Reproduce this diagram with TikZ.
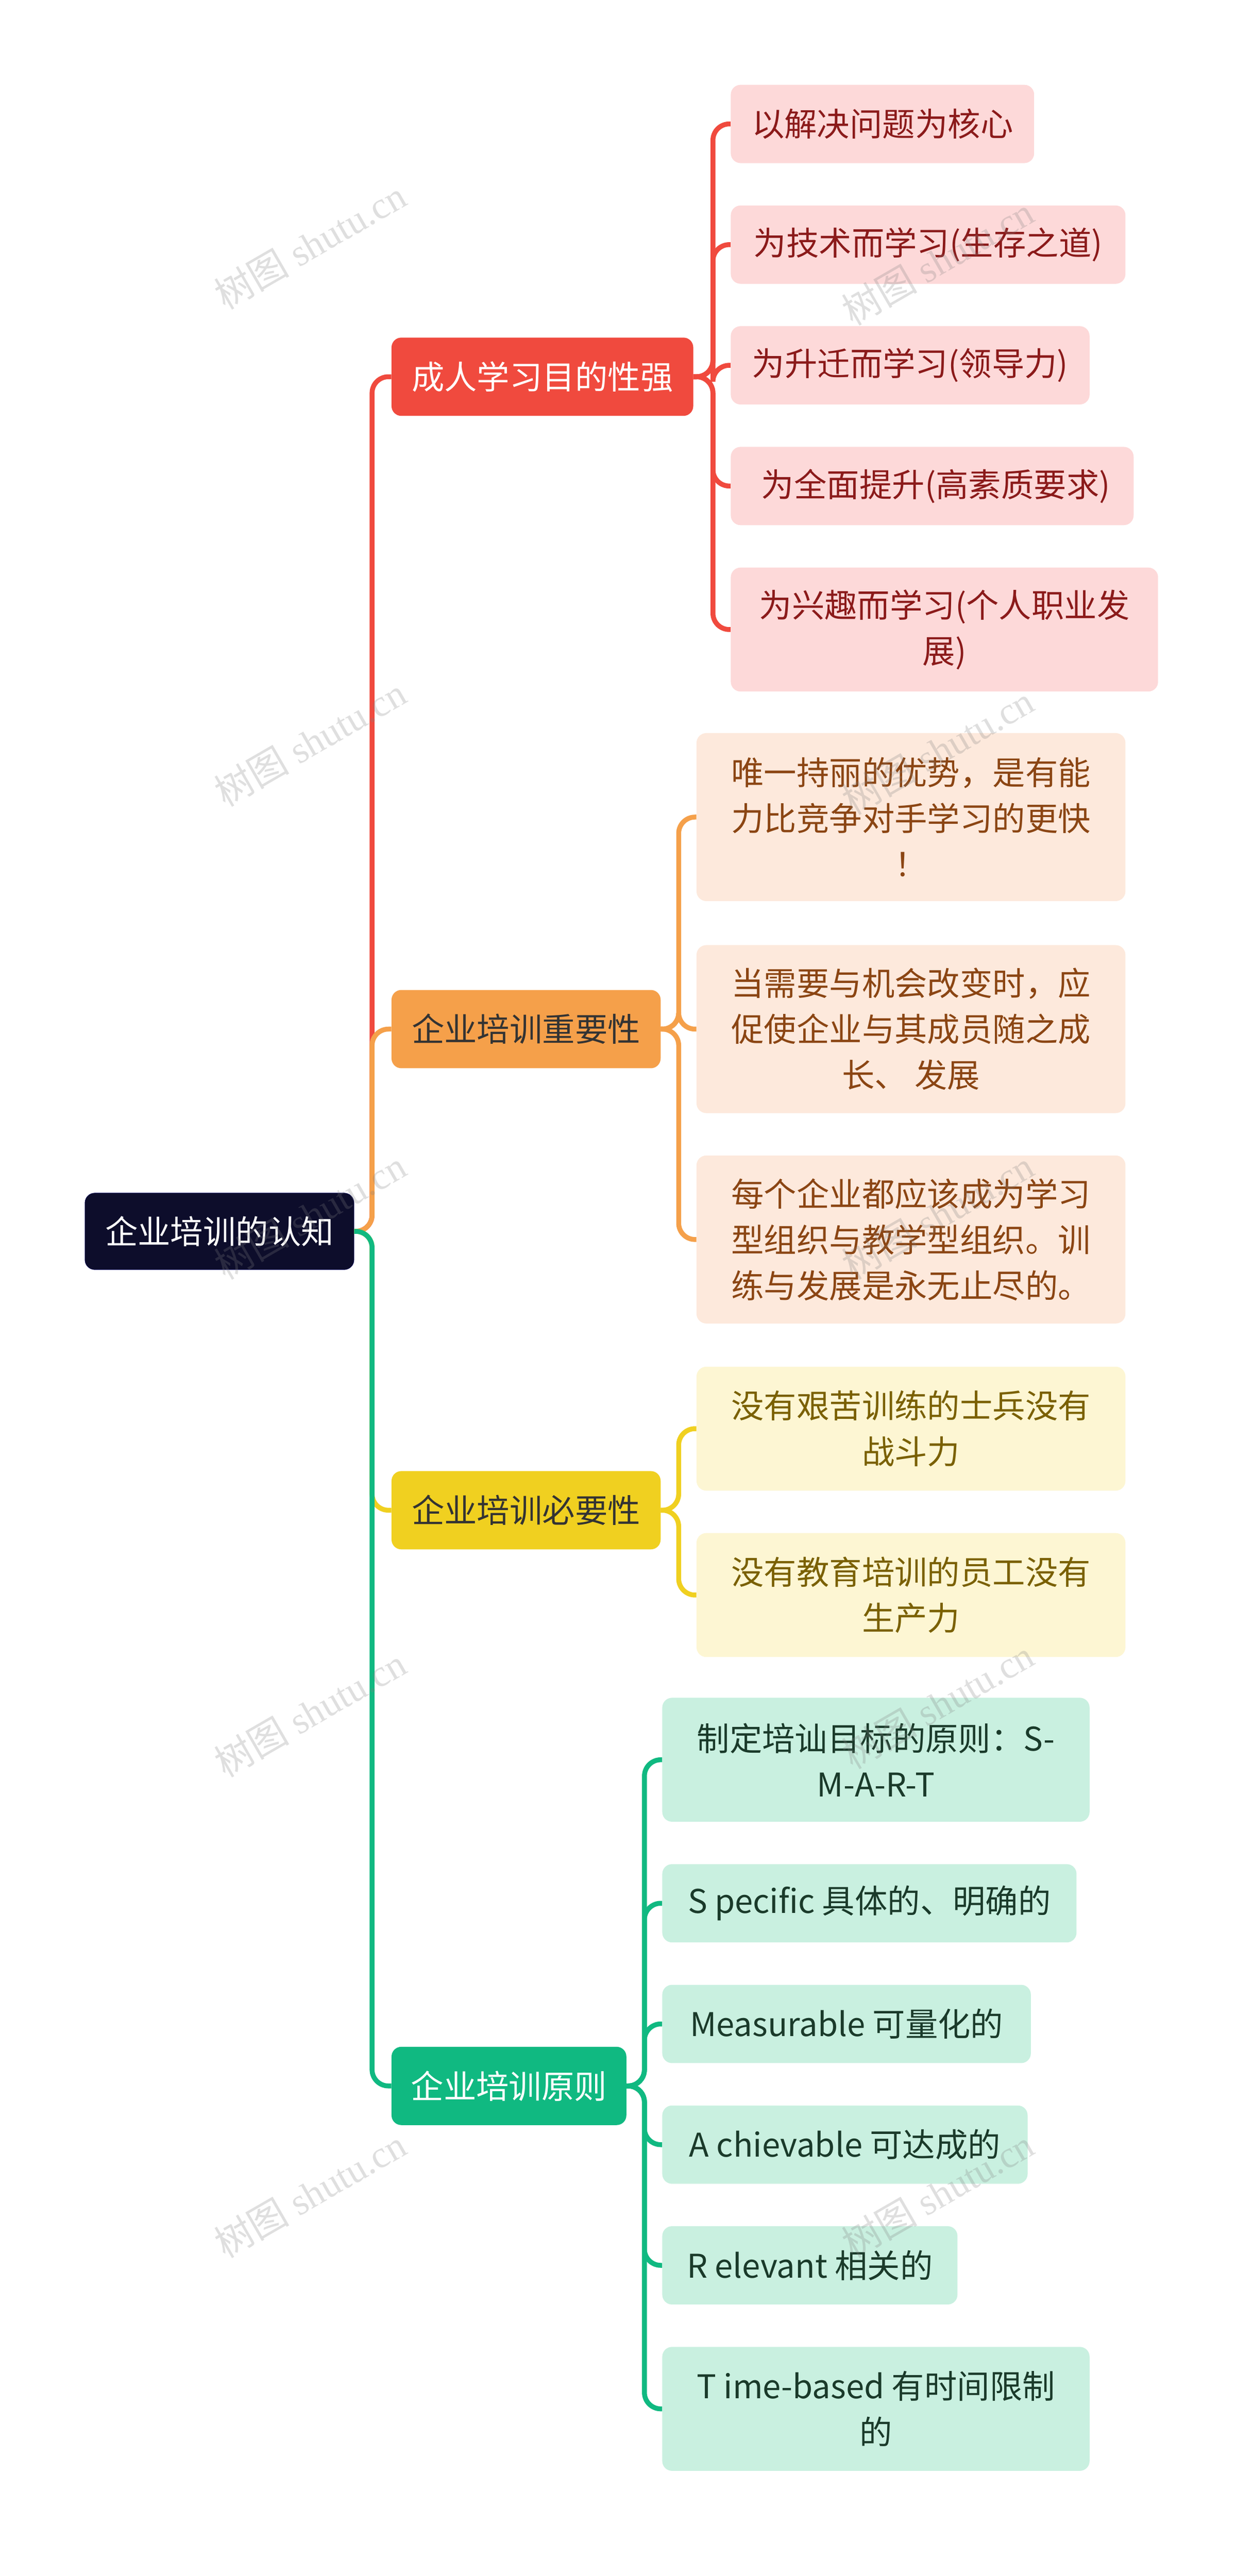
\documentclass[tikz,border=0pt]{standalone}
\usepackage{fontspec}
\setmainfont{Noto Sans CJK SC}
\newfontfamily\wmfont{Liberation Serif}
\newfontfamily\wmcjk{Noto Sans CJK SC}
\begin{document}
\begin{tikzpicture}[x=0.1cm,y=-0.1cm,
  box/.style={anchor=west,rounded corners=0.6cm,align=center,inner sep=0pt,font=\fontsize{57}{80}\selectfont},
  wm/.style={rotate=30,text=gray,opacity=0.25,font=\wmfont\fontsize{66}{70}\selectfont},
  conn/.style={line width=0.3cm,rounded corners=1cm}]
\useasboundingbox (0,0) rectangle (768,1579.5);
\fill[white] (0,0) rectangle (768,1579.5);
\definecolor{cR}{HTML}{F04A3E}\definecolor{cRl}{HTML}{FDD9D9}\definecolor{cRt}{HTML}{8B1A1A}
\definecolor{cO}{HTML}{F5A04A}\definecolor{cOl}{HTML}{FDE9DC}\definecolor{cOt}{HTML}{8B4513}
\definecolor{cY}{HTML}{F0D020}\definecolor{cYl}{HTML}{FDF6D3}\definecolor{cYt}{HTML}{7A6000}
\definecolor{cG}{HTML}{10B981}\definecolor{cGl}{HTML}{C9F0E0}\definecolor{cGt}{HTML}{1A3A2A}
\definecolor{cN}{HTML}{0D0D2B}
% root
\node[box,fill=cN,draw=blue!40!black,text=white,minimum width=16.5cm,minimum height=4.7cm] (root) at (52,755) {企业培训的认知};
% branches
\node[box,fill=cR,text=white,minimum width=18.5cm,minimum height=4.8cm] (b1) at (240,231) {成人学习目的性强};
\node[box,fill=cO,text=black!80,minimum width=16.5cm,minimum height=4.8cm] (b2) at (240,631) {企业培训重要性};
\node[box,fill=cY,text=black!80,minimum width=16.5cm,minimum height=4.8cm] (b3) at (240,926) {企业培训必要性};
\node[box,fill=cG,text=white,minimum width=14.4cm,minimum height=4.8cm] (b4) at (240,1279) {企业培训原则};
% trunk
\draw[conn,cR] (root.east) -- ++(11,0) |- (b1.west);
\draw[conn,cO] (root.east) -- ++(11,0) |- (b2.west);
\draw[conn,cY] (root.east) -- ++(11,0) |- (b3.west);
\draw[conn,cG] (root.east) -- ++(11,0) |- (b4.west);
% red leaves
\tikzset{rl/.style={box,fill=cRl,text=cRt,minimum height=4.8cm}}
\node[rl,minimum width=18.6cm] (r1) at (448,76) {以解决问题为核心};
\node[rl,minimum width=24.2cm] (r2) at (448,150) {为技术而学习(生存之道)};
\node[rl,minimum width=22cm] (r3) at (448,224) {为升迁而学习(领导力)};
\node[rl,minimum width=24.7cm] (r4) at (448,298) {\ 为全面提升(高素质要求)};
\node[rl,minimum width=26.2cm,minimum height=7.6cm] (r5) at (448,386) {为兴趣而学习(个人职业发\\展)};
\foreach \n in {r1,r2,r3,r4,r5} \draw[conn,cR] (b1.east) -- ++(12,0) |- (\n.west);
% orange leaves
\tikzset{ol/.style={box,fill=cOl,text=cOt,minimum width=26.3cm,minimum height=10.3cm}}
\node[ol] (o1) at (427,501) {唯一持丽的优势，是有能\\力比竞争对手学习的更快\\！};
\node[ol] (o2) at (427,631) {当需要与机会改变时，应\\促使企业与其成员随之成\\长、 发展};
\node[ol] (o3) at (427,760) {每个企业都应该成为学习\\型组织与教学型组织。训\\练与发展是永无止尽的。};
\foreach \n in {o1,o2,o3} \draw[conn,cO] (b2.east) -- ++(11,0) |- (\n.west);
% yellow leaves
\tikzset{yl/.style={box,fill=cYl,text=cYt,minimum width=26.3cm,minimum height=7.6cm}}
\node[yl] (y1) at (427,876) {没有艰苦训练的士兵没有\\战斗力};
\node[yl] (y2) at (427,978) {没有教育培训的员工没有\\生产力};
\foreach \n in {y1,y2} \draw[conn,cY] (b3.east) -- ++(11,0) |- (\n.west);
% green leaves
\tikzset{gl/.style={box,fill=cGl,text=cGt,minimum height=4.8cm}}
\node[gl,minimum width=26.2cm,minimum height=7.6cm] (g1) at (406,1079) {制定培讪目标的原则：S-\\M-A-R-T};
\node[gl,minimum width=25.4cm] (g2) at (406,1167) {S pecific 具体的、明确的};
\node[gl,minimum width=22.6cm] (g3) at (406,1241) {Measurable 可量化的};
\node[gl,minimum width=22.4cm] (g4) at (406,1315) {A chievable 可达成的};
\node[gl,minimum width=18.1cm] (g5) at (406,1389) {R elevant 相关的};
\node[gl,minimum width=26.2cm,minimum height=7.6cm] (g6) at (406,1477) {T ime-based 有时间限制\\的};
\foreach \n in {g1,g2,g3,g4,g5,g6} \draw[conn,cG] (b4.east) -- ++(11,0) |- (\n.west);
% watermarks on top
\foreach \x/\y [count=\i] in {190/150,575/160,190/455,575/460,190/745,575/745,190/1050,575/1045,190/1345,575/1345}
  \node[wm] (wm\i) at (\x,\y) {{\wmcjk 树图} shutu.cn};
\end{tikzpicture}
\end{document}
